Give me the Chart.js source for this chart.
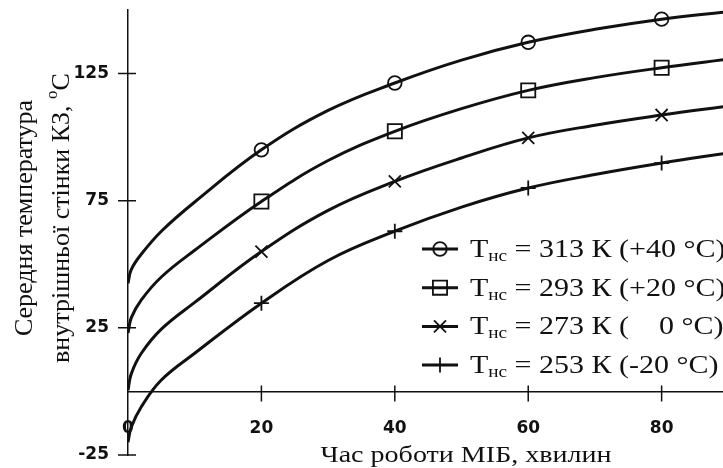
<!DOCTYPE html>
<html>
<head>
<meta charset="utf-8">
<script src="https://cdn.jsdelivr.net/npm/chart.js@4/dist/chart.umd.min.js"></script>
<style>
  html, body { margin: 0; padding: 0; background: #fff; }
  #wrap { width: 723px; height: 468px; position: relative; }
</style>
</head>
<body>
<div id="wrap"><canvas id="chart"></canvas></div>
<script>
// час роботи МІБ, хв
const minutes = [0, 0.5, 2, 5, 10, 20, 30, 40, 50, 60, 70, 80, 90];
// середня температура стінки, °C
const t313 = [42.5, 48, 54, 63, 74.5, 95, 110.5, 121.3, 130.3, 137.3, 142.4, 146.4, 149.3];
const t293 = [23, 29, 36, 45, 55.5, 74.7, 90.8, 102.3, 111.2, 118.4, 123.4, 127.3, 130.7];
const t273 = [0.5, 7, 15, 24.5, 35, 55, 71.2, 82.6, 91.8, 99.7, 104.7, 108.7, 112.2];
const t253 = [-20, -14, -6, 4.5, 15, 34.7, 51.5, 63, 72.5, 80, 85.3, 89.8, 93.8];

const markerMinutes = [20, 40, 60, 80];
const seriesNames = ['313 К (+40 °C)', '293 К (+20 °C)', '273 К (    0 °C)', '253 К (-20 °C)'];
const xTicks = [0, 20, 40, 60, 80];
const yTicks = [-25, 25, 75, 125];

const serif = '"Liberation Serif", "Times New Roman", serif';
const ink = '#111';
const stretch = 1.2; // текст у оригіналі трохи розтягнутий по горизонталі

// стилі маркерів для кожної кривої
const markers = [
  { style: 'circle', r: 6.8 },
  { style: 'rect', r: 10 },
  { style: 'crossRot', r: 8.5 },
  { style: 'cross', r: 7.5 }
];

function makeDataset(values, i) {
  return {
    label: seriesNames[i],
    data: minutes.map((m, k) => ({ x: m, y: values[k] })),
    borderColor: ink,
    borderWidth: 3,
    tension: 0.4,
    pointStyle: markers[i].style,
    pointRadius: ctx => markerMinutes.includes(ctx.raw.x) ? markers[i].r : 0,
    pointBorderWidth: 1.8,
    pointBorderColor: ink,
    pointBackgroundColor: 'rgba(0,0,0,0)'
  };
}

// перехресні риски на осях
const axisTicks = {
  id: 'axisTicks',
  afterDraw(chart) {
    const ctx = chart.ctx;
    const xs = chart.scales.x, ys = chart.scales.y;
    const x0 = xs.getPixelForValue(0), y0 = ys.getPixelForValue(0);
    ctx.save();
    ctx.strokeStyle = ink;
    ctx.lineWidth = 1.5;
    ctx.beginPath();
    yTicks.forEach(v => {
      const p = ys.getPixelForValue(v);
      ctx.moveTo(x0 - 10, p);
      ctx.lineTo(x0 + 8, p);
    });
    xTicks.forEach(v => {
      if (v === 0) return;
      const p = xs.getPixelForValue(v);
      ctx.moveTo(p, y0 - 6);
      ctx.lineTo(p, y0 + 10);
    });
    ctx.stroke();
    ctx.restore();
  }
};

// підписи осей
const axisTitles = {
  id: 'axisTitles',
  afterDraw(chart) {
    const ctx = chart.ctx;
    ctx.save();
    ctx.fillStyle = ink;
    ctx.textBaseline = 'middle';
    ctx.textAlign = 'center';
    ctx.font = '23px ' + serif;
    ctx.translate(466, 456);
    ctx.scale(1.22, 1);
    ctx.fillText('Час роботи МІБ, хвилин', 0, 0);
    ctx.restore();

    ctx.save();
    ctx.fillStyle = ink;
    ctx.textBaseline = 'middle';
    ctx.textAlign = 'center';
    ctx.font = '26px ' + serif;
    ctx.translate(25, 218);
    ctx.rotate(-Math.PI / 2);
    ctx.fillText('Середня температура', 0, 0);
    ctx.restore();

    ctx.save();
    ctx.fillStyle = ink;
    ctx.textBaseline = 'middle';
    ctx.translate(62, 218);
    ctx.rotate(-Math.PI / 2);
    const main = 'внутрішньої стінки КЗ, ';
    ctx.font = '26px ' + serif;
    const w1 = ctx.measureText(main).width;
    const w3 = ctx.measureText('C').width;
    ctx.font = '17px ' + serif;
    const w2 = ctx.measureText('o').width;
    let x = -(w1 + w2 + w3) / 2;
    ctx.textAlign = 'left';
    ctx.font = '26px ' + serif;
    ctx.fillText(main, x, 0);
    x += w1;
    ctx.font = '17px ' + serif;
    ctx.fillText('o', x, -9);
    x += w2;
    ctx.font = '26px ' + serif;
    ctx.fillText('C', x, 0);
    ctx.restore();
  }
};

// легенда з нижнім індексом
const subLegend = {
  id: 'subLegend',
  afterDraw(chart) {
    const ctx = chart.ctx;
    const left = 422, top = 249, step = 38.7;
    chart.data.datasets.forEach((ds, i) => {
      const y = top + i * step;
      ctx.save();
      ctx.strokeStyle = ink;
      ctx.lineWidth = 3;
      ctx.beginPath();
      ctx.moveTo(left, y);
      ctx.lineTo(left + 36, y);
      ctx.stroke();
      ctx.lineWidth = 1.8;
      ctx.fillStyle = 'rgba(0,0,0,0)';
      Chart.helpers.drawPoint(ctx, {
        pointStyle: markers[i].style,
        radius: markers[i].r,
        borderWidth: 1.8,
        rotation: 0
      }, left + 18, y);

      ctx.fillStyle = ink;
      ctx.textBaseline = 'alphabetic';
      ctx.textAlign = 'left';
      ctx.translate(left + 48, y + 8);
      ctx.scale(stretch, 1);
      let x = 0;
      ctx.font = '25px ' + serif;
      ctx.fillText('T', x, 0);
      x += ctx.measureText('T').width;
      ctx.font = '16px ' + serif;
      ctx.fillText('нс', x, 4);
      x += ctx.measureText('нс').width;
      ctx.font = '25px ' + serif;
      ctx.fillText(' = ' + ds.label, x, 0);
      ctx.restore();
    });
  }
};

const ctx = document.getElementById('chart').getContext('2d');
const chart = new Chart(ctx, {
  type: 'line',
  data: {
    datasets: [t313, t293, t273, t253].map(makeDataset)
  },
  options: {
    responsive: true,
    maintainAspectRatio: false,
    animation: false,
    events: [],
    layout: { padding: { left: 0, top: 10, right: 0, bottom: 13 } },
    plugins: {
      legend: { display: false },
      tooltip: { enabled: false }
    },
    scales: {
      x: {
        type: 'linear',
        position: { y: 0 },
        min: 0,
        max: 89.2,
        afterBuildTicks: scale => { scale.ticks = xTicks.map(v => ({ value: v })); },
        afterFit: scale => { scale.paddingLeft = 0; scale.paddingRight = 0; },
        grid: { display: false, drawTicks: false },
        border: { display: true, color: ink, width: 1.5 },
        ticks: {
          padding: 27,
          color: ink,
          maxRotation: 0,
          font: { family: 'DejaVu Sans', size: 17, weight: 'bold' }
        }
      },
      y: {
        type: 'linear',
        position: 'left',
        min: -25,
        max: 150,
        afterBuildTicks: scale => { scale.ticks = yTicks.map(v => ({ value: v })); },
        afterFit: scale => { scale.width = 128; scale.paddingTop = 0; scale.paddingBottom = 0; },
        grid: { display: false, drawTicks: false },
        border: { display: true, color: ink, width: 1.5 },
        ticks: {
          padding: 19,
          color: ink,
          font: { family: 'DejaVu Sans', size: 17, weight: 'bold' }
        }
      }
    }
  },
  plugins: [axisTicks, axisTitles, subLegend]
});
</script>
</body>
</html>
